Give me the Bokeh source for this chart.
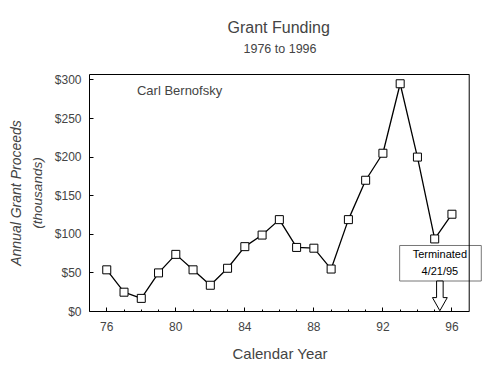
from bokeh.plotting import figure
from bokeh.models import LinearAxis, FixedTicker, Range1d, Label, Title, Span
from bokeh.embed import file_html
from bokeh.resources import INLINE
from bokeh.core.properties import value

# ---- data ----
years = list(range(76, 97))
proceeds = [54, 25, 17, 50, 74, 54, 34, 56, 84, 99, 119, 83, 82, 55,
            119, 170, 205, 295, 200, 94, 126]
x_ticks = [76, 80, 84, 88, 92, 96]
y_ticks = [0, 50, 100, 150, 200, 250, 300]
y_tick_labels = ["$0", "$50", "$100", "$150", "$200", "$250", "$300"]

title_text = "Grant Funding"
subtitle_text = "1976 to 1996"
x_label = "Calendar Year"

# annotation values
term_date = 95.3          # 4/21/95
term_lines = ["Terminated", "4/21/95"]
box_left, box_right, box_bottom, box_top = 92.97, 97.7, 39.5, 85.5

FONT = "Liberation Sans"
X0, X1 = 75, 97          # plotted frame (axis box)
Y0, Y1 = 0, 307

p = figure(width=500, height=385, output_backend="svg", toolbar_location=None,
           x_range=Range1d(X0, 97.77), y_range=Range1d(Y0, Y1),
           x_axis_type=None, y_axis_type=None, title=None,
           min_border_left=89, min_border_right=18,
           min_border_top=74, min_border_bottom=74)
p.grid.visible = False
p.outline_line_color = None
p.background_fill_color = "white"
p.border_fill_color = "white"

# top edge of the axis box
top = LinearAxis(ticker=FixedTicker(ticks=[]), bounds=(X0, X1))
top.major_tick_in = 0
top.major_tick_out = 0
top.major_label_standoff = 0
top.major_tick_line_color = None
top.minor_tick_line_color = None
top.axis_line_color = "black"
p.add_layout(top, "above")

# titles: spacer panel, then subtitle, then main title
p.add_layout(Title(text=" ", text_font_size="1px", standoff=16), "above")
p.add_layout(Title(text=subtitle_text, align="left", offset=154, text_font=FONT,
                   text_font_size="12.5px", text_font_style="normal",
                   standoff=0), "above")
p.add_layout(Title(text=title_text, align="left", offset=138, text_font=FONT,
                   text_font_size="16px", text_font_style="normal",
                   standoff=7), "above")

# right edge of the axis box
p.add_layout(Span(location=X1, dimension="height", line_color="black",
                  line_width=1))

# x axis
xa = LinearAxis(ticker=FixedTicker(ticks=x_ticks, minor_ticks=years),
                bounds=(X0, X1))
xa.major_tick_in = 4
xa.major_tick_out = 0
xa.minor_tick_in = 2
xa.minor_tick_out = 0
xa.major_label_standoff = 10
xa.major_label_text_font = FONT
xa.major_label_text_font_size = "12px"
xa.axis_line_color = "black"
p.add_layout(xa, "below")
p.add_layout(Title(text=x_label, align="left", offset=143, text_font=FONT,
                   text_font_size="15px", text_font_style="normal",
                   standoff=18), "below")

# y axis (inner)
ya = LinearAxis(ticker=FixedTicker(ticks=y_ticks),
                axis_label="(thousands)")
ya.major_label_overrides = {t: l for t, l in zip(y_ticks, y_tick_labels)}
ya.major_tick_in = 4
ya.major_tick_out = 0
ya.minor_tick_line_color = None
ya.major_label_standoff = 8
ya.major_label_text_font = FONT
ya.major_label_text_font_size = "12px"
ya.axis_label_text_font = FONT
ya.axis_label_text_font_size = "13.5px"
ya.axis_label_text_font_style = "italic"
ya.axis_label_standoff = 7
p.add_layout(ya, "left")

# y axis (outer, label only)
ya2 = LinearAxis(ticker=FixedTicker(ticks=[]), axis_label="Annual Grant Proceeds")
ya2.axis_line_color = None
ya2.major_tick_line_color = None
ya2.minor_tick_line_color = None
ya2.major_tick_in = 0
ya2.major_tick_out = 0
ya2.major_label_standoff = 0
ya2.axis_label_standoff = 3
ya2.axis_label_text_font = FONT
ya2.axis_label_text_font_size = "14px"
ya2.axis_label_text_font_style = "italic"
p.add_layout(ya2, "left")

# data line and markers
p.line(years, proceeds, line_color="black", line_width=1.3)
p.scatter(years, proceeds, marker="square", size=8, fill_color="white",
          line_color="black", line_width=1)

# name label
p.add_layout(Label(x=77.75, y=286, text="Carl Bernofsky", text_font=FONT,
                   text_font_size="13px", text_baseline="middle",
                   text_align="left"))

# termination box
p.quad(left=[box_left], right=[box_right], bottom=[box_bottom], top=[box_top],
       fill_color="white", line_color="#777777", line_width=1)
p.text(x=[term_date, term_date], y=[75, 52], text=term_lines,
       text_font=value(FONT), text_font_size="11px",
       text_align="center", text_baseline="middle", text_color="black")

# hollow arrow to termination date
sw, hw = 0.19, 0.43
shaft_end, tip = 18, 1
ax = [term_date - sw, term_date - sw, term_date - hw, term_date,
      term_date + hw, term_date + sw, term_date + sw]
ay = [box_bottom, shaft_end, shaft_end, tip, shaft_end, shaft_end, box_bottom]
p.patch(ax, ay, fill_color="white", line_color="black", line_width=1)

open("out.html", "w").write(file_html(p, INLINE))
